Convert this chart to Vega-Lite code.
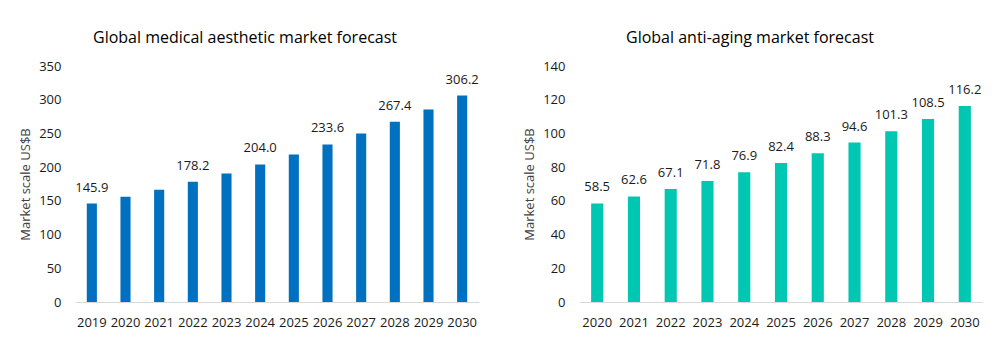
{
  "$schema": "https://vega.github.io/schema/vega-lite/v6.json",
  "padding": {"left": 19, "top": 30, "right": 0, "bottom": 0},
  "background": "white",
  "spacing": 100,
  "bounds": "flush",
  "config": {
    "font": "Open Sans",
    "view": {"stroke": null},
    "axis": {"labelFont": "Open Sans", "titleFont": "Open Sans", "labelColor": "#1a1a1a", "titleColor": "#404040"},
    "title": {"font": "Open Sans", "fontSize": 16, "fontWeight": "normal", "color": "#000000"}
  },
  "datasets": {
    "aesthetic": [
      {"year": "2019", "value": 145.9, "label": "145.9"},
      {"year": "2020", "value": 156.2, "label": ""},
      {"year": "2021", "value": 166.6, "label": ""},
      {"year": "2022", "value": 178.2, "label": "178.2"},
      {"year": "2023", "value": 190.4, "label": ""},
      {"year": "2024", "value": 204.0, "label": "204.0"},
      {"year": "2025", "value": 218.6, "label": ""},
      {"year": "2026", "value": 233.6, "label": "233.6"},
      {"year": "2027", "value": 249.9, "label": ""},
      {"year": "2028", "value": 267.4, "label": "267.4"},
      {"year": "2029", "value": 285.6, "label": ""},
      {"year": "2030", "value": 306.2, "label": "306.2"}
    ],
    "antiaging": [
      {"year": "2020", "value": 58.5, "label": "58.5"},
      {"year": "2021", "value": 62.6, "label": "62.6"},
      {"year": "2022", "value": 67.1, "label": "67.1"},
      {"year": "2023", "value": 71.8, "label": "71.8"},
      {"year": "2024", "value": 76.9, "label": "76.9"},
      {"year": "2025", "value": 82.4, "label": "82.4"},
      {"year": "2026", "value": 88.3, "label": "88.3"},
      {"year": "2027", "value": 94.6, "label": "94.6"},
      {"year": "2028", "value": 101.3, "label": "101.3"},
      {"year": "2029", "value": 108.5, "label": "108.5"},
      {"year": "2030", "value": 116.2, "label": "116.2"}
    ]
  },
  "hconcat": [
    {
      "width": 404,
      "height": 236,
      "data": {"name": "aesthetic"},
      "title": {"text": "Global medical aesthetic market forecast", "anchor": "middle", "frame": "group", "dx": -32, "offset": 14},
      "encoding": {
        "x": {"field": "year", "type": "ordinal", "scale": {"paddingInner": 0.7, "paddingOuter": 0.35},
          "axis": {"title": null, "labelAngle": 0, "labelFontSize": 13, "ticks": false, "domainColor": "#D9D9D9", "labelPadding": 14}},
        "y": {"field": "value", "type": "quantitative", "scale": {"domain": [0, 350]},
          "axis": {"title": "Market scale US$B", "values": [0, 50, 100, 150, 200, 250, 300, 350], "grid": false, "domain": false, "ticks": false, "labelFontSize": 13, "titleFontSize": 13, "titleFontWeight": "normal", "labelPadding": 14, "titlePadding": 6}}
      },
      "layer": [
        {"mark": {"type": "bar", "color": "#0070C0"}},
        {"mark": {"type": "text", "baseline": "bottom", "dy": -9, "fontSize": 13, "color": "#1a1a1a"},
          "encoding": {"text": {"field": "label"}}}
      ]
    },
    {
      "width": 404,
      "height": 236,
      "data": {"name": "antiaging"},
      "title": {"text": "Global anti-aging market forecast", "anchor": "middle", "frame": "group", "dx": -31, "offset": 14},
      "encoding": {
        "x": {"field": "year", "type": "ordinal", "scale": {"paddingInner": 0.67, "paddingOuter": 0.33},
          "axis": {"title": null, "labelAngle": 0, "labelFontSize": 13, "ticks": false, "domainColor": "#D9D9D9", "labelPadding": 14}},
        "y": {"field": "value", "type": "quantitative", "scale": {"domain": [0, 140]},
          "axis": {"title": "Market scale US$B", "values": [0, 20, 40, 60, 80, 100, 120, 140], "grid": false, "domain": false, "ticks": false, "labelFontSize": 13, "titleFontSize": 13, "titleFontWeight": "normal", "labelPadding": 14, "titlePadding": 6}}
      },
      "layer": [
        {"mark": {"type": "bar", "color": "#00C7B1"}},
        {"mark": {"type": "text", "baseline": "bottom", "dy": -9, "fontSize": 13, "color": "#1a1a1a"},
          "encoding": {"text": {"field": "label"}}}
      ]
    }
  ]
}
